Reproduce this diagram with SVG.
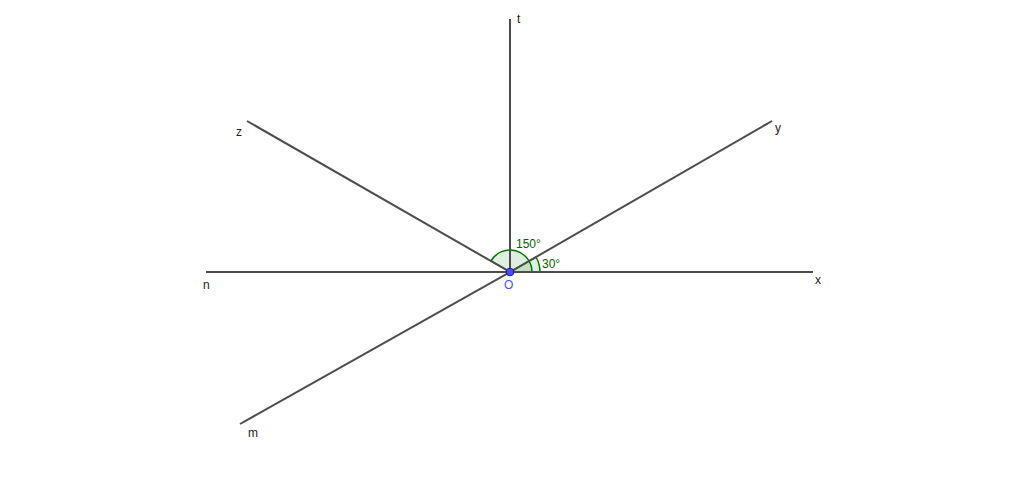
<svg xmlns="http://www.w3.org/2000/svg" width="1024" height="483" viewBox="0 0 1024 483">
<style>
.ln{stroke:#4d4d4d;stroke-width:2;fill:none}
.lb{font-family:"Liberation Sans",Arial,sans-serif;font-size:12px;fill:#222}
.ag{font-family:"Liberation Sans",Arial,sans-serif;font-size:12px;fill:#006400}
.arc{stroke:#007500;stroke-width:1.5;fill:#007500;fill-opacity:0.12}
</style>
<rect width="1024" height="483" fill="#fff"/>
<g id="angles">
<path class="arc" d="M510 272 L532 272 A22 22 0 0 0 490.95 261 Z"/>
<path class="arc" d="M510 272 L540 272 A30 30 0 0 0 536 257 Z"/>
</g>
<g id="connectors">
<line class="ln" x1="206" y1="272" x2="813" y2="272"/>
<line class="ln" x1="510" y1="272" x2="510" y2="19"/>
<line class="ln" x1="510" y1="272" x2="772" y2="121"/>
<line class="ln" x1="510" y1="272" x2="247" y2="121"/>
<line class="ln" x1="510" y1="272" x2="240" y2="424"/>
</g>
<g id="labels">
<text class="lb" x="517" y="23">t</text>
<text class="lb" x="236" y="136">z</text>
<text class="lb" x="775" y="132">y</text>
<text class="lb" x="815" y="284">x</text>
<text class="lb" x="203" y="289">n</text>
<text class="lb" x="248" y="437">m</text>
<text class="ag" x="516" y="248">150°</text>
<text class="ag" x="542" y="268">30°</text>
</g>
<g id="O">
<circle cx="510" cy="272" r="3.8" fill="#4d4dff" stroke="#1a1a99" stroke-width="1"/>
<text x="504" y="289" style="font-family:'Liberation Sans',Arial,sans-serif;font-size:12px;fill:#4d4dff">O</text>
</g>
</svg>
